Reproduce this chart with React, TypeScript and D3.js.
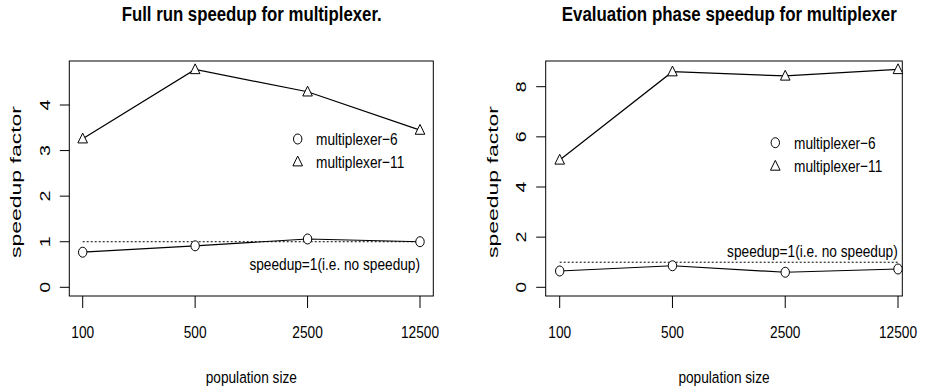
import React from "react";
import * as d3 from "d3";

const categories = ["100", "500", "2500", "12500"];
const fullMux6 = [0.77, 0.91, 1.06, 1.0];
const fullMux11 = [3.26, 4.78, 4.29, 3.45];
const evalMux6 = [0.65, 0.86, 0.6, 0.73];
const evalMux11 = [5.08, 8.6, 8.43, 8.69];
const fullTicks = [0, 1, 2, 3, 4];
const evalTicks = [0, 2, 4, 6, 8];
const legendLabels = ["multiplexer\u22126", "multiplexer\u221211"];
const refLabel = "speedup=1(i.e. no speedup)";
const FONT = "'Liberation Sans', Arial, Helvetica, sans-serif";

type PanelProps = {
  title: string;
  titleX: number;
  titleW: number;
  box: [number, number];
  xRange: [number, number];
  yDomain: [number, number];
  yRange: [number, number];
  ticks: number[];
  s6: number[];
  s11: number[];
  ylabX: number;
  yTickX: number;
  legX: number;
  legY: [number, number];
  legTextX: number;
  refX: number;
  refY: number;
};

const TOP = 61;
const BOTTOM = 296;
const FS = 17.1;
const SX = 0.8;

function Tri({ x, y }: { x: number; y: number }) {
  const p = d3.path();
  p.moveTo(x, y - 5.6);
  p.lineTo(x + 4.8, y + 4.2);
  p.lineTo(x - 4.8, y + 4.2);
  p.closePath();
  return <path d={p.toString()} fill="white" stroke="black" strokeWidth={1} />;
}

function Circ({ x, y }: { x: number; y: number }) {
  return <ellipse cx={x} cy={y} rx={4.2} ry={5} fill="white" stroke="black" strokeWidth={1} />;
}

function Panel(p: PanelProps) {
  const x = d3.scalePoint<string>().domain(categories).range(p.xRange);
  const y = d3.scaleLinear().domain(p.yDomain).range(p.yRange);
  const line = d3
    .line<number>()
    .x((_, i) => x(categories[i]) as number)
    .y((d) => y(d));
  const [bl, br] = p.box;
  return (
    <g fontFamily={FONT} fill="black">
      <text
        x={p.titleX}
        y={21}
        textAnchor="middle"
        fontWeight="bold"
        fontSize={19.5}
        textLength={p.titleW}
        lengthAdjust="spacingAndGlyphs"
      >
        {p.title}
      </text>
      <rect x={bl} y={TOP} width={br - bl} height={BOTTOM - TOP} fill="none" stroke="black" strokeWidth={1} />
      {categories.map((c) => (
        <g key={c}>
          <line x1={x(c)} x2={x(c)} y1={BOTTOM} y2={BOTTOM + 12} stroke="black" />
          <text
            transform={`translate(${x(c)},338) scale(${SX},1)`}
            textAnchor="middle"
            fontSize={FS}
          >
            {c}
          </text>
        </g>
      ))}
      {p.ticks.map((t) => (
        <g key={t}>
          <line x1={bl - 9.5} x2={bl} y1={y(t)} y2={y(t)} stroke="black" />
          <text
            transform={`translate(${p.yTickX},${y(t)}) rotate(-90) scale(1.35,1)`}
            textAnchor="middle"
            dominantBaseline="central"
            fontSize={14.5}
          >
            {t}
          </text>
        </g>
      ))}
      <text
        transform={`translate(${(bl + br) / 2},382.5) scale(${SX},1)`}
        textAnchor="middle"
        fontSize={FS}
      >
        population size
      </text>
      <text
        transform={`translate(${p.ylabX},182) rotate(-90)`}
        textAnchor="middle"
        dominantBaseline="central"
        fontSize={14}
        textLength={152}
        lengthAdjust="spacingAndGlyphs"
      >
        speedup factor
      </text>
      <line
        x1={p.xRange[0]}
        x2={p.xRange[1]}
        y1={y(1)}
        y2={y(1)}
        stroke="black"
        strokeWidth={1}
        strokeDasharray="2,2"
      />
      <path d={line(p.s6) ?? ""} fill="none" stroke="black" strokeWidth={1.2} />
      <path d={line(p.s11) ?? ""} fill="none" stroke="black" strokeWidth={1.2} />
      {p.s6.map((v, i) => (
        <Circ key={"c" + i} x={x(categories[i]) as number} y={y(v)} />
      ))}
      {p.s11.map((v, i) => (
        <Tri key={"t" + i} x={x(categories[i]) as number} y={y(v)} />
      ))}
      <Circ x={p.legX} y={p.legY[0]} />
      <Tri x={p.legX} y={p.legY[1]} />
      {legendLabels.map((l, i) => (
        <text
          key={l}
          transform={`translate(${p.legTextX},${p.legY[i]}) scale(${SX},1)`}
          dominantBaseline="central"
          fontSize={FS}
        >
          {l}
        </text>
      ))}
      <text
        transform={`translate(${p.refX},${p.refY}) scale(${SX},1)`}
        textAnchor="end"
        fontSize={FS}
      >
        {refLabel}
      </text>
    </g>
  );
}

export default function App() {
  return (
    <svg
      width={926}
      height={390}
      style={{ position: "absolute", left: 0, top: 0, background: "white" }}
    >
      <Panel
        title="Full run speedup for multiplexer."
        titleX={251.7}
        titleW={260}
        box={[69.3, 433.3]}
        xRange={[82.7, 420]}
        yDomain={[0, 4]}
        yRange={[287.3, 105]}
        ticks={fullTicks}
        s6={fullMux6}
        s11={fullMux11}
        ylabX={16}
        yTickX={45}
        legX={297.7}
        legY={[139, 161.7]}
        legTextX={316}
        refX={420}
        refY={269.5}
      />
      <Panel
        title="Evaluation phase speedup for multiplexer"
        titleX={729.3}
        titleW={335}
        box={[545.7, 902.3]}
        xRange={[559.7, 898]}
        yDomain={[0, 8]}
        yRange={[287.3, 86.7]}
        ticks={evalTicks}
        s6={evalMux6}
        s11={evalMux11}
        ylabX={492.5}
        yTickX={521}
        legX={775.3}
        legY={[142.7, 166]}
        legTextX={794}
        refX={897.7}
        refY={256.7}
      />
    </svg>
  );
}
